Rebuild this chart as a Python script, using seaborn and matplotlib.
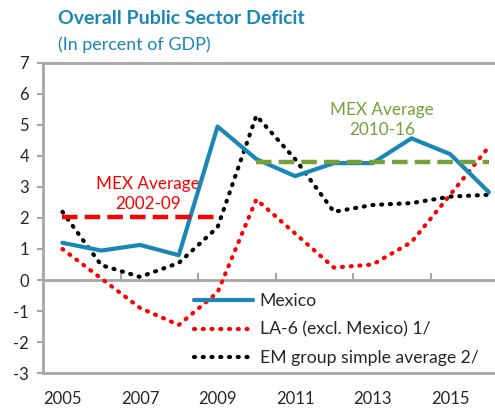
import matplotlib
matplotlib.use("Agg")
import matplotlib.pyplot as plt
import seaborn as sns
import pandas as pd

years = [2005, 2006, 2007, 2008, 2009, 2010, 2011, 2012, 2013, 2014, 2015, 2016]
mexico = [1.2, 0.95, 1.13, 0.8, 4.95, 3.9, 3.35, 3.77, 3.77, 4.57, 4.06, 2.83]
la6 = [1.0, 0.05, -0.9, -1.45, -0.4, 2.6, 1.5, 0.4, 0.5, 1.22, 2.75, 4.3]
em_avg = [2.2, 0.48, 0.1, 0.55, 1.7, 5.3, 3.9, 2.2, 2.42, 2.48, 2.69, 2.75]
avg_0209_years = [2005, 2009]
avg_0209 = [2.02, 2.02]
avg_1016_years = [2010, 2016]
avg_1016 = [3.8, 3.8]
tick_years = [2005, 2007, 2009, 2011, 2013, 2015]

blue = "#1a87b6"
red = "#ff0000"
green = "#74a13a"
grey = "#a6a6a6"

sns.set_style("white")
plt.rcParams["font.family"] = ["Lato", "DejaVu Sans"]
plt.rcParams["axes.unicode_minus"] = False

df = pd.DataFrame({"year": years, "Mexico": mexico, "LA-6": la6, "EM": em_avg})

fig = plt.figure(figsize=(4.95, 4.09), dpi=100)
ax = fig.add_axes([0.087, 0.088, 0.94, 0.758])

dots = (0, (0.25, 1.85))
sns.lineplot(data=df, x="year", y="Mexico", ax=ax, color=blue, lw=3,
             label="Mexico", zorder=4)
sns.lineplot(data=df, x="year", y="LA-6", ax=ax, color=red, lw=3.0,
             linestyle=dots, dash_capstyle="round",
             label="LA-6 (excl. Mexico) 1/", zorder=3)
sns.lineplot(data=df, x="year", y="EM", ax=ax, color="black", lw=3.0,
             linestyle=dots, dash_capstyle="round",
             label="EM group simple average 2/", zorder=3)
sns.lineplot(x=avg_0209_years, y=avg_0209, ax=ax, color=red, lw=3.2,
             linestyle=(0, (3.5, 1.6)), zorder=5, legend=False)
sns.lineplot(x=avg_1016_years, y=avg_1016, ax=ax, color=green, lw=3.2,
             linestyle=(0, (3.5, 1.6)), zorder=5, legend=False)

ax.text(2007.2, 2.78, "MEX Average\n2002-09", color=red, fontsize=12.3,
        ha="center", va="center", linespacing=1.3)
ax.text(2013.25, 5.16, "MEX Average\n2010-16", color=green, fontsize=12.3,
        ha="center", va="center", linespacing=1.3)

ax.set_xlim(2004.5, 2016.5)
ax.set_ylim(-3, 7)
ax.set_yticks(range(-3, 8))
ax.set_xticks(tick_years)
ax.set_xticklabels([str(y) for y in tick_years])
ax.tick_params(axis="x", length=0, labelsize=12, pad=13)
ax.tick_params(axis="y", length=4, width=1.5, color=grey, labelsize=12,
               direction="out", left=True, pad=6)
ax.set_xlabel("")
ax.set_ylabel("")
for s in ax.spines.values():
    s.set_color(grey)
    s.set_linewidth(2)

# horizontal axis line at zero with boundary tick marks
ax2 = ax.twiny()
ax2.set_xlim(ax.get_xlim())
ax2.spines["bottom"].set_position(("data", 0))
ax2.spines["bottom"].set_color(grey)
ax2.spines["bottom"].set_linewidth(2)
for k in ["top", "left", "right"]:
    ax2.spines[k].set_visible(False)
ax2.xaxis.set_ticks_position("bottom")
ax2.set_xticks([y - 0.5 for y in tick_years] + [2016.5])
ax2.tick_params(axis="x", direction="in", length=5, width=1.5, color=grey,
                labelbottom=False, labeltop=False)
ax2.set_zorder(ax.get_zorder() - 1)
ax.patch.set_visible(False)

leg = ax.legend(loc="upper left", bbox_to_anchor=(0.31, 0.28), frameon=False,
                fontsize=12.7, handlelength=3.3, labelspacing=0.7,
                handletextpad=0.4, borderaxespad=0)

fig.text(0.117, 0.955, "Overall Public Sector Deficit", color=blue,
         fontsize=14, fontweight="bold", va="center")
fig.text(0.117, 0.89, "(In percent of GDP)", color=blue, fontsize=12.9,
         va="center")

fig.savefig("out.png", dpi=100)
